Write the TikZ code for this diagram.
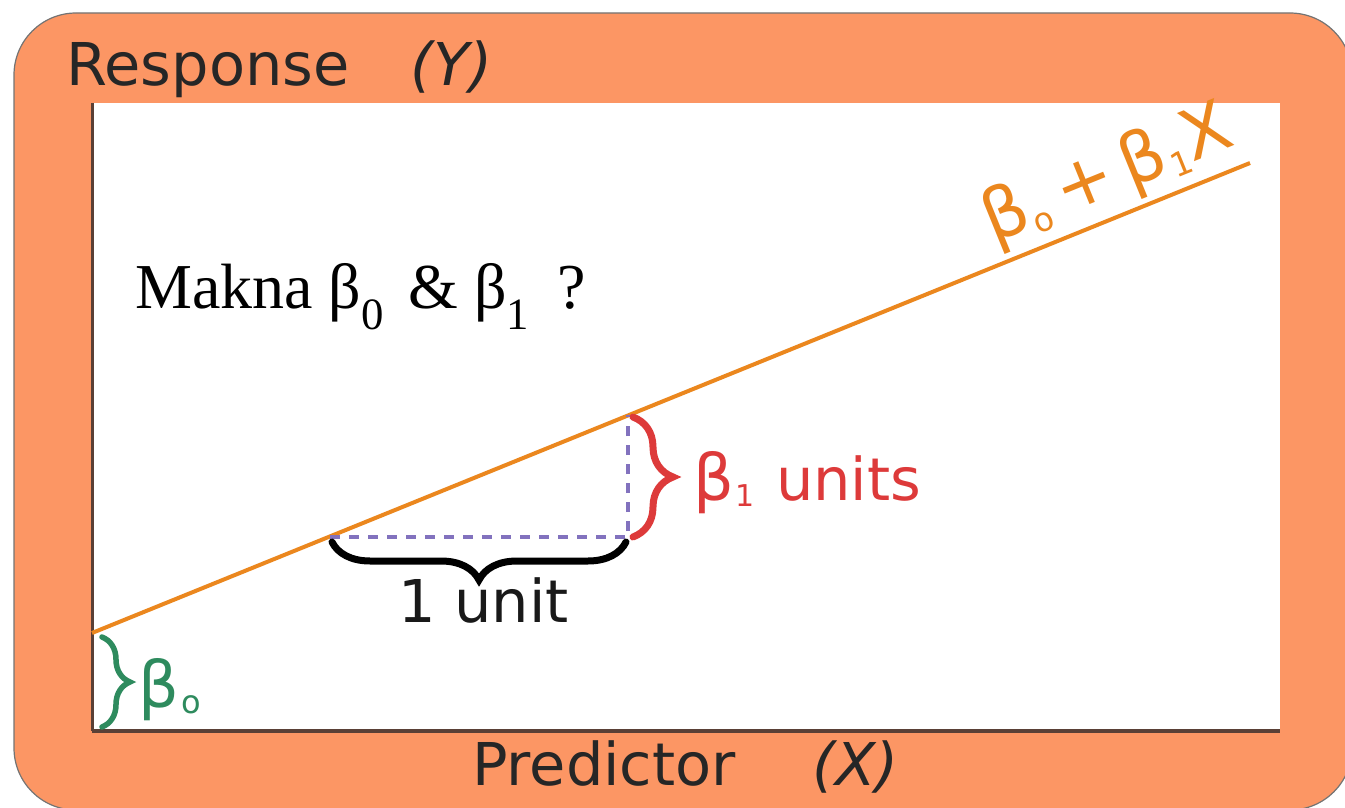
\documentclass[tikz,border=0pt]{standalone}
\usepackage{fontspec}
\setmainfont{Liberation Serif}
\newfontfamily\vsans{DejaVu Sans}
\usetikzlibrary{decorations.pathreplacing}
\definecolor{bgorange}{HTML}{FC9664}
\definecolor{lineorange}{HTML}{EB871E}
\definecolor{redc}{HTML}{DD3A3A}
\definecolor{greenc}{HTML}{2E8B5E}
\definecolor{dashc}{HTML}{8272BE}
\definecolor{axisc}{HTML}{5A4036}
\tikzset{
  axislabel/.style={font=\vsans\fontsize{59}{62}\selectfont, text=black!85, inner sep=0pt, anchor=base west},
  bracestyle/.style={decorate, line cap=round},
  sanslabel/.style={font=\vsans\fontsize{59}{62}\selectfont, inner sep=0pt, anchor=base west},
}
\begin{document}
\begin{tikzpicture}[x=1pt,y=-1pt]
\useasboundingbox (0,0) rectangle (1345,808);
% frame
\draw[fill=bgorange, draw=black!55, line width=1.2pt, rounded corners=62pt] (14,13) rectangle (1352,810);
\fill[white] (92,103) rectangle (1280,730);
% axes
\coordinate (origin) at (92,731);
\coordinate (ytop) at (92,103);
\coordinate (xend) at (1280,731);
\draw[axisc, line width=3pt] (ytop) -- (origin);
\draw[axisc, line width=4pt] (origin) -- (xend);
% labels
\node[axislabel] (resp) at (66,85) {Response};
\node[axislabel] (respY) at (410,85) {\itshape (Y)};
\node[axislabel] (pred) at (472,785) {Predictor};
\node[axislabel] (predX) at (812,785) {\itshape (X)};
% regression line
\coordinate (l0) at (92,633);
\coordinate (l1) at (1250,163);
\draw[lineorange, line width=4pt] (l0) -- (l1);
% triangle
\coordinate (ta) at (330,537);
\coordinate (tb) at (628,537);
\coordinate (tc) at (628,415);
\draw[dashc, line width=4pt, dash pattern=on 10pt off 9pt] (ta) -- (tb) -- (tc);
% braces
\draw[bracestyle, decoration={brace, mirror, amplitude=38pt, aspect=0.5}, black, line width=7pt] (332,542) -- (626,542);
\draw[bracestyle, decoration={brace, amplitude=40pt, aspect=0.5}, redc, line width=7pt] (633,417) -- (633,537);
\draw[bracestyle, decoration={brace, amplitude=28pt, aspect=0.5}, greenc, line width=5.5pt] (102,637) -- (102,727);
% brace labels
\node[sanslabel, text=black!90] (oneunit) at (398,622) {1 unit};
\node[sanslabel, text=redc] (b1units) at (693,500) {{\fontsize{64}{64}\selectfont β}\kern1pt\raisebox{-6pt}{\fontsize{30}{30}\selectfont 1}\kern22pt units};
\node[sanslabel, text=greenc] (b0) at (138,707) {{\fontsize{64}{64}\selectfont β}\kern2pt\raisebox{-6pt}{\fontsize{32}{32}\selectfont o}};
% question
\node[inner sep=0pt, anchor=base west, font=\fontsize{64}{68}\selectfont] (q) at (135,308) {Makna β\textsubscript{0}\kern8pt{} \& β\textsubscript{1}\kern12pt{} ?};
% formula along line
\node[sanslabel, text=lineorange, rotate=22.1, font=\vsans\fontsize{70}{72}\selectfont] (formula) at (993,244) {β\kern1pt\raisebox{-8pt}{\fontsize{33}{33}\selectfont o}\kern12pt+\kern12ptβ\kern1pt\raisebox{-8pt}{\fontsize{33}{33}\selectfont 1}X};
\end{tikzpicture}
\end{document}
